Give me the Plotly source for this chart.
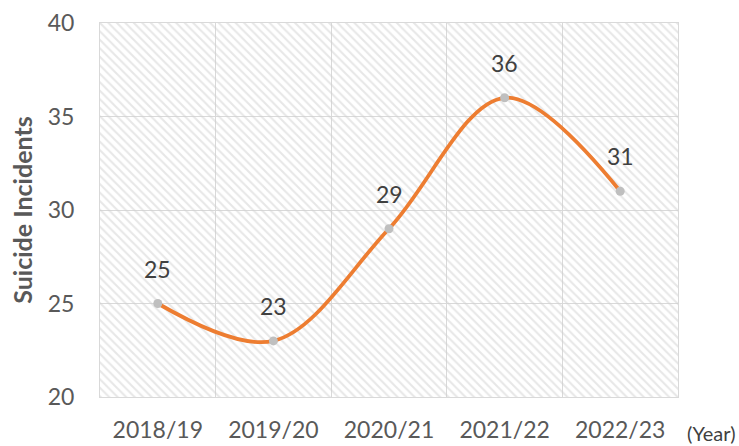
import plotly.graph_objects as go

years = ["2018/19", "2019/20", "2020/21", "2021/22", "2022/23"]
incidents = [25, 23, 29, 36, 31]
y_ticks = [20, 25, 30, 35, 40]

FONT = "Lato"
xi = list(range(len(years)))
x_lo, x_hi = -0.5, len(years) - 0.5
y_lo, y_hi = y_ticks[0], y_ticks[-1]

fig = go.Figure()

# hatched plot background
fig.add_trace(go.Scatter(
    x=[x_lo, x_hi, x_hi, x_lo, x_lo], y=[y_lo, y_lo, y_hi, y_hi, y_lo],
    mode="lines", line=dict(width=0), fill="toself",
    fillcolor="rgba(0,0,0,0)",
    fillpattern=dict(shape="\\", fgcolor="#D0D0D0", bgcolor="rgba(0,0,0,0)",
                     size=6, solidity=0.35),
    hoverinfo="skip", showlegend=False,
))

fig.add_trace(go.Scatter(
    x=xi, y=incidents, mode="lines+markers",
    line=dict(color="#ED7D31", width=3.8, shape="spline", smoothing=1.0),
    marker=dict(color="#BFBFBF", size=9),
    showlegend=False,
))

for x, v in zip(xi, incidents):
    fig.add_annotation(
        x=x, y=v, text=str(v), showarrow=False, yshift=35,
        font=dict(family=FONT, size=23, color="#404040"),
    )

fig.add_annotation(
    text="(Year)", x=1.0, xref="paper", y=-0.095, yref="paper",
    xanchor="right", yanchor="middle", xshift=59, showarrow=False,
    font=dict(family=FONT, size=20, color="#404040"),
)

fig.update_layout(
    width=739, height=446,
    margin=dict(l=100, r=61, t=23, b=49),
    paper_bgcolor="white", plot_bgcolor="white",
    font=dict(family=FONT, color="#595959"),
    xaxis=dict(
        range=[x_lo, x_hi], tickvals=xi, ticktext=years,
        showgrid=False, zeroline=False, automargin=False,
        tickfont=dict(family=FONT, size=23, color="#595959"),
        ticks="", ticklabelstandoff=12,
        showline=True, linecolor="#D9D9D9", linewidth=1, mirror=True,
        minor=dict(tickvals=[i + 0.5 for i in xi[:-1]], showgrid=True,
                   gridcolor="#D9D9D9", gridwidth=1, ticks=""),
    ),
    yaxis=dict(
        range=[y_lo, y_hi], tickvals=y_ticks,
        showgrid=True, gridcolor="#D9D9D9", gridwidth=1, zeroline=False,
        automargin=False,
        tickfont=dict(family=FONT, size=23, color="#595959"),
        ticks="", ticklabelstandoff=20,
        showline=True, linecolor="#D9D9D9", linewidth=1, mirror=True,
        title=dict(text="<b>Suicide Incidents</b>", standoff=7,
                   font=dict(family=FONT, size=25, color="#595959")),
    ),
)

fig.write_html("out.html", config={"displayModeBar": False},
               post_script="document.body.style.margin='0';")
